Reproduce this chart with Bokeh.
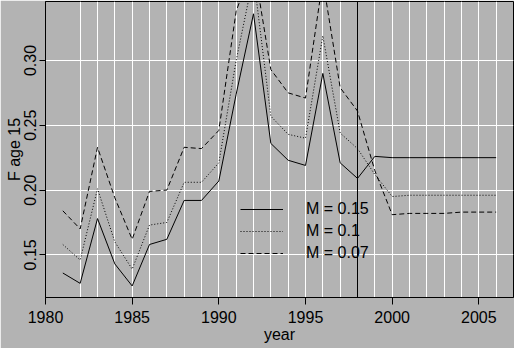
from bokeh.plotting import figure
from bokeh.models import Range1d, FixedTicker, NumeralTickFormatter, Span, Legend, LegendItem
from bokeh.embed import file_html
from bokeh.resources import INLINE

# ---- data ----
years = list(range(1981, 2007))
f_m015 = [0.136, 0.128, 0.178, 0.143, 0.126, 0.158, 0.162, 0.192, 0.192, 0.207,
          0.274, 0.336, 0.236, 0.223, 0.219, 0.290, 0.221, 0.209, 0.226,
          0.225, 0.225, 0.225, 0.225, 0.225, 0.225, 0.225]
f_m010 = [0.158, 0.146, 0.201, 0.160, 0.139, 0.173, 0.175, 0.206, 0.206, 0.221,
          0.300, 0.365, 0.257, 0.243, 0.240, 0.319, 0.244, 0.232, 0.212,
          0.195, 0.196, 0.196, 0.196, 0.196, 0.196, 0.196]
f_m007 = [0.184, 0.170, 0.233, 0.194, 0.162, 0.199, 0.200, 0.233, 0.232, 0.246,
          0.338, 0.375, 0.293, 0.275, 0.271, 0.362, 0.279, 0.261, 0.215,
          0.181, 0.182, 0.182, 0.182, 0.183, 0.183, 0.183]
series_labels = ["M = 0.15", "M = 0.1", "M = 0.07"]
x_ticks = [1980, 1985, 1990, 1995, 2000, 2005]
y_ticks = [0.15, 0.20, 0.25, 0.30]
grid_years = [y for y in range(1982, 2007) if y != 1998]
last_assessment_year = 1998
x_lim = (1980, 2007)
y_lim = (0.1171, 0.3455)

BG = "#b3b3b3"
FONT = "Liberation Sans"

p = figure(width=514, height=348, output_backend="svg", toolbar_location=None,
           x_range=Range1d(*x_lim), y_range=Range1d(*y_lim),
           min_border_left=45, min_border_right=1, min_border_top=1, min_border_bottom=51,
           background_fill_color=BG, border_fill_color=BG,
           outline_line_color="black", outline_line_width=1)

# axes
p.xaxis.ticker = FixedTicker(ticks=x_ticks)
p.yaxis.ticker = FixedTicker(ticks=y_ticks)
p.yaxis.formatter = NumeralTickFormatter(format="0.00")
p.yaxis.major_label_orientation = "vertical"
for ax in (p.xaxis, p.yaxis):
    ax.axis_line_color = "black"
    ax.major_tick_line_color = "black"
    ax.major_tick_in = 0
    ax.minor_tick_line_color = None
    ax.major_label_text_font = FONT
    ax.major_label_text_font_size = "16px"
    ax.major_label_text_color = "black"
    ax.axis_label_text_font = FONT
    ax.axis_label_text_font_size = "16px"
    ax.axis_label_text_font_style = "normal"
    ax.axis_label_text_color = "black"
p.xaxis.axis_label = "year"
p.yaxis.axis_label = "F age 15"
p.xaxis.major_tick_out = 7
p.yaxis.major_tick_out = 6
p.xaxis.major_label_standoff = 6
p.xaxis.axis_label_standoff = 0
p.yaxis.major_label_standoff = 3
p.yaxis.axis_label_standoff = -1

# grid
p.xgrid.ticker = FixedTicker(ticks=grid_years)
p.xgrid.grid_line_color = "white"
p.xgrid.grid_line_width = 1
p.ygrid.grid_line_color = "white"
p.ygrid.grid_line_width = 1

p.add_layout(Span(location=last_assessment_year, dimension="height",
                  line_color="black", line_width=1))

r1 = p.line(years, f_m015, line_color="black", line_width=1)
r2 = p.line(years, f_m010, line_color="black", line_width=1, line_dash="1 2")
r3 = p.line(years, f_m007, line_color="black", line_width=1, line_dash="5 3")

legend = Legend(items=[LegendItem(label=series_labels[0], renderers=[r1]),
                       LegendItem(label=series_labels[1], renderers=[r2]),
                       LegendItem(label=series_labels[2], renderers=[r3])],
                location=(195, 34), padding=0, margin=0, spacing=2,
                glyph_width=43, glyph_height=20, label_height=20, label_standoff=23,
                label_text_font=FONT, label_text_font_size="16px", label_text_color="black",
                background_fill_alpha=0, border_line_alpha=0)
p.add_layout(legend)

open("out.html", "w").write(file_html(p, INLINE))
